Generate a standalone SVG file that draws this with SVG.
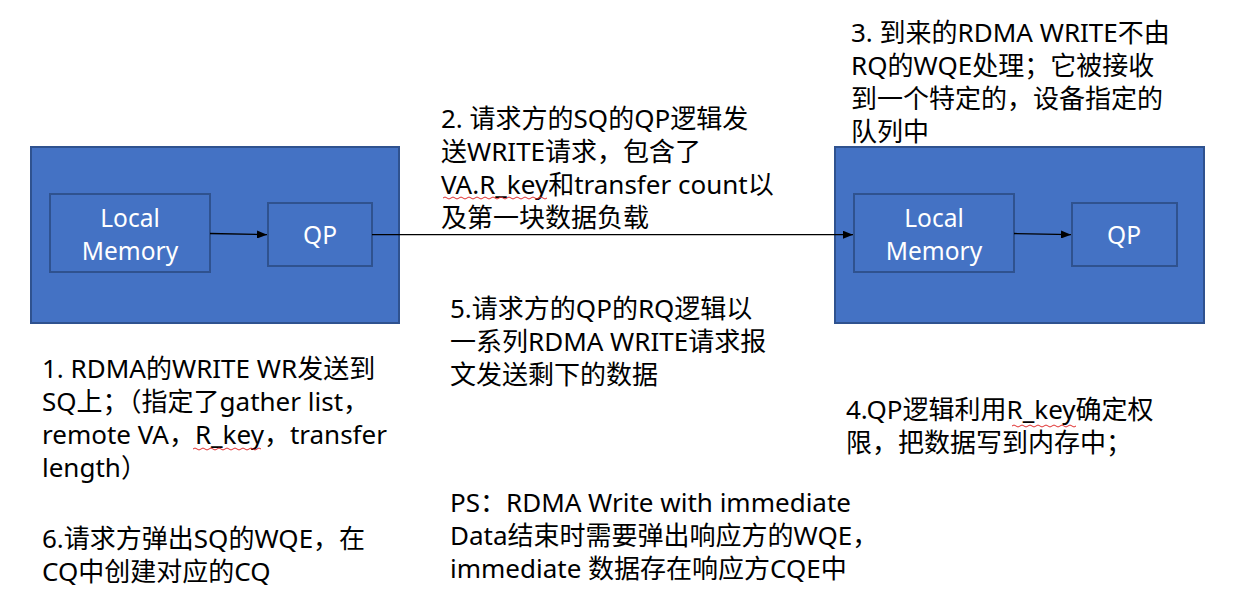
<svg xmlns="http://www.w3.org/2000/svg" width="1239" height="608" viewBox="0 0 1239 608">
<defs>
<style>
.outer{fill:#4472C4;stroke:#2F528F;stroke-width:2}
.inner{fill:#4472C4;stroke:#2F528F;stroke-width:2}
.wt{fill:#FFFFFF;font-family:"Noto Sans","Noto Sans CJK SC",sans-serif;font-size:24.5px;text-anchor:middle}
.bt{fill:#000000;font-family:"Noto Sans","Noto Sans CJK SC",sans-serif;font-size:26px}
.conn{stroke:#000000;stroke-width:1.3;fill:none}
.sq{stroke:#E03030;stroke-width:1;fill:none}
</style>
<marker id="arr" markerWidth="10" markerHeight="8" refX="10" refY="4" orient="auto" markerUnits="userSpaceOnUse">
<path d="M0,0 L10,4 L0,8 Z" fill="#000000"/>
</marker>
</defs>
<rect width="1239" height="608" fill="#FFFFFF"/>

<g id="left-host">
<rect class="outer" x="31" y="147" width="368" height="176"/>
</g>
<g id="left-memory">
<rect class="inner" x="50" y="194" width="160" height="78"/>
<text class="wt" x="130" y="227">Local</text>
<text class="wt" x="130" y="260">Memory</text>
</g>
<g id="left-qp">
<rect class="inner" x="268" y="203" width="104" height="63"/>
<text class="wt" x="320" y="244">QP</text>
</g>

<g id="right-host">
<rect class="outer" x="835" y="147" width="369" height="176"/>
</g>
<g id="right-memory">
<rect class="inner" x="854" y="194" width="160" height="78"/>
<text class="wt" x="934" y="227">Local</text>
<text class="wt" x="934" y="260">Memory</text>
</g>
<g id="right-qp">
<rect class="inner" x="1072" y="203" width="105" height="63"/>
<text class="wt" x="1124" y="244">QP</text>
</g>

<g id="connectors">
<line class="conn" x1="210" y1="233.5" x2="267" y2="234.7" marker-end="url(#arr)"/>
<line class="conn" x1="372" y1="234.7" x2="853" y2="234.7" marker-end="url(#arr)"/>
<line class="conn" x1="1014" y1="233.5" x2="1071" y2="234.7" marker-end="url(#arr)"/>
</g>

<g id="note-1">
<text class="bt" x="42" y="378">1. RDMA的WRITE WR发送到</text>
<text class="bt" x="42" y="411">SQ上；（指定了gather list，</text>
<text class="bt" x="42" y="444">remote VA，R_key，transfer</text>
<text class="bt" x="42" y="477">length）</text>
<path class="sq" d="M193,449 q2,-2 4,0 t4,0 t4,0 t4,0 t4,0 t4,0 t4,0 t4,0 t4,0 t4,0 t4,0 t4,0 t4,0 t4,0 t4,0 t4,0 t4,0"/>
</g>

<g id="note-2">
<text class="bt" x="441" y="128">2. 请求方的SQ的QP逻辑发</text>
<text class="bt" x="441" y="161">送WRITE请求，包含了</text>
<text class="bt" x="441" y="194">VA.R_key和transfer count以</text>
<text class="bt" x="441" y="227">及第一块数据负载</text>
<path class="sq" d="M443,198 q2,-2 4,0 t4,0 t4,0 t4,0 t4,0 t4,0 t4,0 t4,0 t4,0 t4,0 t4,0 t4,0 t4,0 t4,0 t4,0 t4,0 t4,0 t4,0 t4,0 t4,0 t4,0 t4,0 t4,0 t4,0 t4,0 t4,0"/>
</g>

<g id="note-3">
<text class="bt" x="851" y="42">3. 到来的RDMA WRITE不由</text>
<text class="bt" x="851" y="75">RQ的WQE处理；它被接收</text>
<text class="bt" x="851" y="108">到一个特定的，设备指定的</text>
<text class="bt" x="851" y="141">队列中</text>
</g>

<g id="note-4">
<text class="bt" x="846" y="419">4.QP逻辑利用R_key确定权</text>
<text class="bt" x="846" y="452">限，把数据写到内存中；</text>
<path class="sq" d="M1012,426 q2,-2 4,0 t4,0 t4,0 t4,0 t4,0 t4,0 t4,0 t4,0 t4,0 t4,0 t4,0 t4,0 t4,0 t4,0 t4,0 t4,0"/>
</g>

<g id="note-5">
<text class="bt" x="450" y="318">5.请求方的QP的RQ逻辑以</text>
<text class="bt" x="450" y="351">一系列RDMA WRITE请求报</text>
<text class="bt" x="450" y="384">文发送剩下的数据</text>
</g>

<g id="note-6">
<text class="bt" x="42" y="548">6.请求方弹出SQ的WQE，在</text>
<text class="bt" x="42" y="581">CQ中创建对应的CQ</text>
</g>

<g id="note-ps">
<text class="bt" x="450" y="512">PS：RDMA Write with immediate</text>
<text class="bt" x="450" y="545">Data结束时需要弹出响应方的WQE，</text>
<text class="bt" x="450" y="578">immediate 数据存在响应方CQE中</text>
</g>
</svg>
